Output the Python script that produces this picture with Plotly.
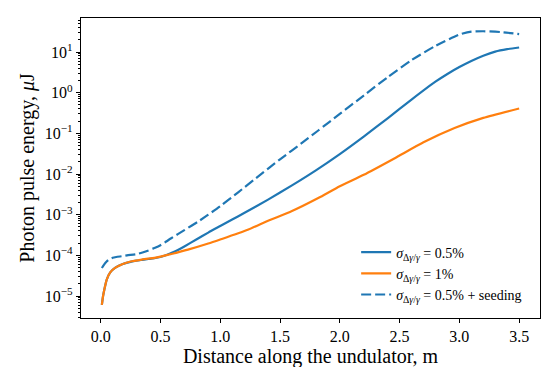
import plotly.graph_objects as go

# Distance along the undulator (m) and log10 of pulse energy (uJ)
x_sol = [0.01, 0.02, 0.03, 0.05, 0.08, 0.12, 0.18, 0.25, 0.3, 0.35, 0.4, 0.45, 0.5, 0.55, 0.6, 0.65,
         0.7, 0.8, 0.9, 1.0, 1.1, 1.2, 1.4, 1.6, 1.8, 2.0, 2.2, 2.4, 2.6, 2.8, 2.9, 3.0, 3.1, 3.2,
         3.3, 3.4, 3.5]
logE_05 = [-5.22, -5.0, -4.85, -4.6, -4.42, -4.31, -4.22, -4.16, -4.13, -4.11, -4.09, -4.07, -4.04,
           -3.99, -3.93, -3.86, -3.78, -3.61, -3.44, -3.28, -3.12, -2.96, -2.63, -2.28, -1.91, -1.51,
           -1.08, -0.63, -0.17, 0.27, 0.46, 0.63, 0.78, 0.91, 1.01, 1.07, 1.11]

x_or = [0.01, 0.02, 0.03, 0.05, 0.08, 0.12, 0.18, 0.25, 0.35, 0.45, 0.5, 0.6, 0.73, 0.9, 1.0, 1.23,
        1.4, 1.6, 1.82, 2.0, 2.2, 2.46, 2.7, 2.96, 3.2, 3.5]
logE_1 = [-5.22, -5.0, -4.85, -4.6, -4.42, -4.31, -4.22, -4.15, -4.1, -4.06, -4.03, -3.96, -3.86,
          -3.71, -3.61, -3.37, -3.15, -2.91, -2.59, -2.3, -2.02, -1.61, -1.22, -0.87, -0.62, -0.39]

x_seed = [0.01, 0.03, 0.05, 0.07, 0.1, 0.13, 0.18, 0.22, 0.3, 0.35, 0.4, 0.45, 0.5, 0.59, 0.7, 0.82,
          0.9, 1.0, 1.15, 1.3, 1.5, 1.7, 1.82, 2.0, 2.2, 2.4, 2.6, 2.8, 3.0, 3.1, 3.2, 3.35, 3.5]
logE_seed = [-4.31, -4.22, -4.15, -4.1, -4.06, -4.04, -4.02, -4.0, -3.97, -3.93, -3.88, -3.82, -3.75,
             -3.58, -3.38, -3.16, -3.0, -2.79, -2.45, -2.1, -1.64, -1.2, -0.93, -0.52, -0.07, 0.38,
             0.8, 1.15, 1.43, 1.5, 1.51, 1.49, 1.44]

names = ["<i>σ</i><sub>Δ<i>γ</i>/<i>γ</i></sub> = 0.5%",
         "<i>σ</i><sub>Δ<i>γ</i>/<i>γ</i></sub> = 1%",
         "<i>σ</i><sub>Δ<i>γ</i>/<i>γ</i></sub> = 0.5% + seeding"]

ytick_vals = [1e-5, 1e-4, 1e-3, 1e-2, 1e-1, 1, 10]
ytick_text = ["10<sup>−5</sup>", "10<sup>−4</sup>", "10<sup>−3</sup>", "10<sup>−2</sup>",
              "10<sup>−1</sup>", "10<sup>0</sup>", "10<sup>1</sup>"]
xtick_vals = [0.0, 0.5, 1.0, 1.5, 2.0, 2.5, 3.0, 3.5]
xtick_text = ["0.0", "0.5", "1.0", "1.5", "2.0", "2.5", "3.0", "3.5"]
minor_y = [m * 10.0 ** e for e in range(-6, 2) for m in range(2, 10)]

BLUE = "#1f77b4"
ORANGE = "#ff7f0e"
FONT = "Liberation Serif"
Y_RANGE = [-5.54, 1.836]

fig = go.Figure()
fig.add_trace(go.Scatter(x=x_sol, y=[10 ** v for v in logE_05], mode="lines", name=names[0],
                         line=dict(color=BLUE, width=2.2, shape="spline", smoothing=0.6)))
fig.add_trace(go.Scatter(x=x_or, y=[10 ** v for v in logE_1], mode="lines", name=names[1],
                         line=dict(color=ORANGE, width=2.2, shape="spline", smoothing=0.6)))
fig.add_trace(go.Scatter(x=x_seed, y=[10 ** v for v in logE_seed], mode="lines", name=names[2],
                         line=dict(color=BLUE, width=2.2, dash="10px,4px", shape="spline", smoothing=0.6)))
# empty helper trace so the overlaid minor-tick axis is drawn
fig.add_trace(go.Scatter(x=[None], y=[None], yaxis="y2", showlegend=False, hoverinfo="skip"))

fig.update_layout(
    width=550, height=367,
    margin=dict(l=73, r=18, t=10, b=57),
    paper_bgcolor="white", plot_bgcolor="white",
    font=dict(family=FONT, color="black", size=16),
    showlegend=True,
    legend=dict(x=0.972, y=0.025, xanchor="right", yanchor="bottom",
                bgcolor="rgba(255,255,255,0)", borderwidth=0,
                font=dict(family=FONT, size=14), tracegroupgap=0, itemwidth=30),
    yaxis2=dict(type="log", range=Y_RANGE, overlaying="y", side="left", anchor="x",
                tickvals=minor_y, ticktext=["" for _ in minor_y], ticks="outside", ticklen=2.5,
                tickwidth=1, tickcolor="black", showline=False, showgrid=False, zeroline=False),
)
fig.update_xaxes(range=[-0.1645, 3.6745], tickvals=xtick_vals, ticktext=xtick_text,
                 showline=True, linecolor="black", linewidth=1.2, mirror=True,
                 ticks="outside", ticklen=4, tickcolor="black", showgrid=False, zeroline=False,
                 tickfont=dict(size=16),
                 title=dict(text="Distance along the undulator, m", font=dict(size=20), standoff=2))
fig.update_yaxes(selector=dict(overlaying=None), type="log", range=Y_RANGE,
                 tickvals=ytick_vals, ticktext=ytick_text,
                 showline=True, linecolor="black", linewidth=1.2, mirror=True,
                 ticks="outside", ticklen=4, tickcolor="black", showgrid=False, zeroline=False,
                 tickfont=dict(size=16),
                 title=dict(text="Photon pulse energy, <i>μ</i>J", font=dict(size=20), standoff=4))

fig.write_html("out.html")
